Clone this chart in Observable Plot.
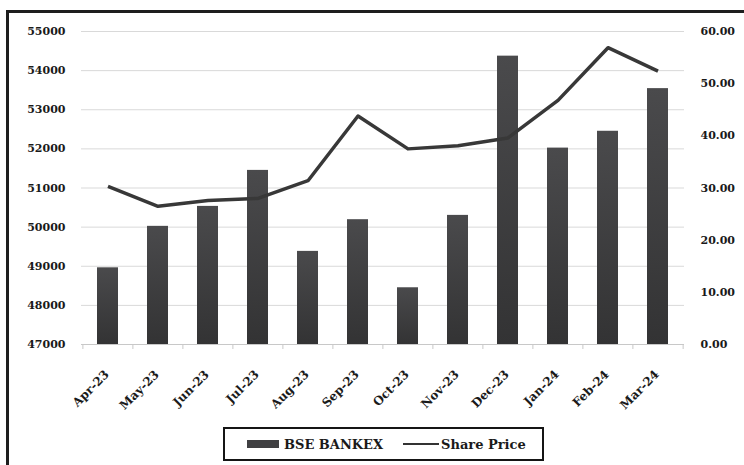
<!DOCTYPE html>
<html>
<head>
<meta charset="utf-8">
<script src="https://cdn.jsdelivr.net/npm/d3@7"></script>
<script src="https://cdn.jsdelivr.net/npm/@observablehq/plot@0.6"></script>
<style>
  html, body { margin: 0; padding: 0; background: #fff; }
  #wrap { position: relative; width: 744px; height: 465px; overflow: hidden; background: #fff; }
  #frame { position: absolute; left: 6px; top: 10px; width: 800px; height: 500px; border: 3px solid #1e1e1e; box-sizing: border-box; pointer-events: none; }
  #legend { position: absolute; left: 223px; top: 427px; width: 321px; height: 34px; box-sizing: border-box;
    border: 2.5px solid #151515; font-family: "DejaVu Serif"; font-weight: bold; font-size: 13px; color: #1a1a1a;
    display: flex; align-items: center; }
  .sw-bar { display: inline-block; width: 32px; height: 8px; background: #404042; margin-left: 22px; margin-right: 5px; }
  .sw-line { display: inline-block; width: 36px; height: 2px; background: #333; margin-left: 20px; margin-right: 2px; }
</style>
</head>
<body>
<div id="wrap">
  <div id="chart"></div>
  <div id="legend"><span class="sw-bar"></span><span>BSE BANKEX</span><span class="sw-line"></span><span>Share Price</span></div>
  <div id="frame"></div>
</div>
<script>
const months = ["Apr-23","May-23","Jun-23","Jul-23","Aug-23","Sep-23","Oct-23","Nov-23","Dec-23","Jan-24","Feb-24","Mar-24"];
const bankex = [48960, 50020, 50530, 51450, 49380, 50190, 48450, 50300, 54370, 52020, 52450, 53540];
const sharePrice = [30.3, 26.5, 27.6, 28.0, 31.4, 43.8, 37.5, 38.1, 39.6, 46.8, 56.9, 52.4];
const leftTicks = [47000, 48000, 49000, 50000, 51000, 52000, 53000, 54000, 55000];
const rightTicks = [0, 10, 20, 30, 40, 50, 60];

const yMin = 47000, yMax = 55000, rMax = 60;
const toLeft = v => yMin + v * (yMax - yMin) / rMax;
const toRight = d => (d - yMin) * rMax / (yMax - yMin);

const data = months.map((m, i) => ({month: m, bankex: bankex[i], price: sharePrice[i]}));

const W = 744, H = 420, mL = 81, mR = 60, mT = 31, mB = 76;
const step = (W - mL - mR) / months.length;

const defs = () => {
  const g = d3.create("svg:defs");
  const lg = g.append("linearGradient").attr("id", "barGrad").attr("x1", 0).attr("y1", 0).attr("x2", 0).attr("y2", 1);
  lg.append("stop").attr("offset", "0%").attr("stop-color", "#4a4a4c");
  lg.append("stop").attr("offset", "100%").attr("stop-color", "#333334");
  return g.node();
};

const plot = Plot.plot({
  width: W, height: H,
  marginLeft: mL, marginRight: mR, marginTop: mT, marginBottom: mB,
  style: {fontFamily: "DejaVu Serif", fontWeight: "bold", fontSize: "11px", color: "#1a1a1a", background: "transparent"},
  x: {type: "band", domain: months, paddingInner: 0.59, paddingOuter: 0.295, label: null},
  y: {domain: [yMin, yMax], label: null},
  marks: [
    defs,
    Plot.gridY(leftTicks, {stroke: "#d9d9d9", strokeOpacity: 1}),
    Plot.ruleY([yMin], {stroke: "#c8c8c8"}),
    Plot.ruleX(months, {x: d => d, y1: () => yMin, y2: () => yMin, dx: -step / 2, insetBottom: -5, stroke: "#c8c8c8"}),
    Plot.ruleX([months[months.length - 1]], {x: d => d, y1: () => yMin, y2: () => yMin, dx: step / 2, insetBottom: -5, stroke: "#c8c8c8"}),
    Plot.barY(data, {x: "month", y1: () => yMin, y2: "bankex", fill: "url(#barGrad)"}),
    Plot.line(data, {x: "month", y: d => toLeft(d.price), stroke: "#383838", strokeWidth: 3.5, strokeLinejoin: "round", strokeLinecap: "butt"}),
    Plot.axisY(leftTicks, {anchor: "left", tickSize: 0, tickPadding: 16, tickFormat: d => String(d), label: null}),
    Plot.axisY(rightTicks.map(toLeft), {anchor: "right", tickSize: 0, tickPadding: 16, tickFormat: d => toRight(d).toFixed(2), label: null}),
    Plot.axisX(months, {tickSize: 0, tickRotate: -45, tickPadding: 28, dx: -1, fontSize: 12, label: null})
  ]
});
document.getElementById("chart").appendChild(plot);
</script>
</body>
</html>
